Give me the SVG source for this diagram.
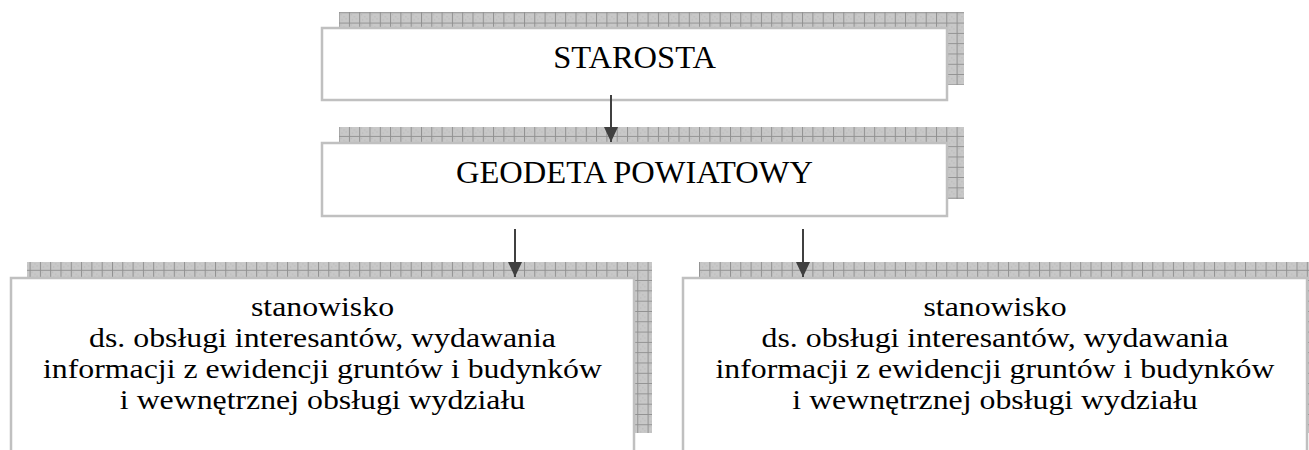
<svg xmlns="http://www.w3.org/2000/svg" width="1309" height="450" viewBox="0 0 1309 450">
  <defs>
    <pattern id="grid" patternUnits="userSpaceOnUse" x="9" y="2" width="10.3" height="10.3">
      <rect x="0" y="0" width="10.3" height="10.3" fill="#c8c8c8"/>
      <rect x="2" y="2" width="1" height="1" fill="#b4b4b4"/>
      <rect x="5" y="4" width="1" height="1" fill="#b4b4b4"/>
      <rect x="3" y="7" width="1" height="1" fill="#b4b4b4"/>
      <rect x="7" y="6" width="1" height="1" fill="#b4b4b4"/>
      <path d="M0 0.5 H10.3 M0.5 0 V10.3" stroke="#909090" stroke-width="1" fill="none"/>
    </pattern>
    <marker id="arrow" markerWidth="15" markerHeight="14" refX="15" refY="7" orient="auto" markerUnits="userSpaceOnUse" viewBox="0 0 15 14">
      <path d="M0 0 L15 7 L0 14 Z" fill="#404040"/>
    </marker>
    <style>
      .shadow { fill: url(#grid); }
      .box { fill: #ffffff; stroke: #c0c0c0; stroke-width: 2.5; }
      .big { font-size: 32.5px; fill: #000; text-anchor: middle; }
      .small { font-size: 26.5px; fill: #000; text-anchor: middle; }
      .conn { stroke: #404040; stroke-width: 2; fill: none; }
    </style>
  </defs>

  <g id="node-starosta" font-family="'Liberation Serif', 'Times New Roman', 'DejaVu Serif', serif">
    <rect class="shadow" x="339" y="12" width="625" height="73"/>
    <rect class="box" x="322" y="28" width="625" height="72"/>
    <text class="big" x="634.5" y="68">STAROSTA</text>
  </g>

  <g id="node-geodeta" font-family="'Liberation Serif', 'Times New Roman', 'DejaVu Serif', serif">
    <rect class="shadow" x="339" y="127" width="625" height="72"/>
    <rect class="box" x="322" y="143" width="625" height="73"/>
    <text class="big" x="634.5" y="183">GEODETA POWIATOWY</text>
  </g>

  <g id="node-stanowisko-1" font-family="'Liberation Serif', 'Times New Roman', 'DejaVu Serif', serif">
    <rect class="shadow" x="27" y="262" width="625" height="171"/>
    <rect class="box" x="11" y="278" width="623" height="190"/>
    <g transform="translate(322.5 0) scale(1.2 1)">
      <text class="small" x="0" y="316">stanowisko</text>
      <text class="small" x="0" y="347">ds. obsługi interesantów, wydawania</text>
      <text class="small" x="0" y="378">informacji z ewidencji gruntów i budynków</text>
      <text class="small" x="0" y="409">i wewnętrznej obsługi wydziału</text>
    </g>
  </g>

  <g id="node-stanowisko-2" font-family="'Liberation Serif', 'Times New Roman', 'DejaVu Serif', serif">
    <rect class="shadow" x="699" y="262" width="640" height="171"/>
    <rect class="box" x="683" y="278" width="624" height="190"/>
    <g transform="translate(995 0) scale(1.2 1)">
      <text class="small" x="0" y="316">stanowisko</text>
      <text class="small" x="0" y="347">ds. obsługi interesantów, wydawania</text>
      <text class="small" x="0" y="378">informacji z ewidencji gruntów i budynków</text>
      <text class="small" x="0" y="409">i wewnętrznej obsługi wydziału</text>
    </g>
  </g>

  <g id="connectors">
    <line class="conn" x1="611" y1="95" x2="611" y2="142" marker-end="url(#arrow)"/>
    <line class="conn" x1="515" y1="229" x2="515" y2="277" marker-end="url(#arrow)"/>
    <line class="conn" x1="803" y1="229" x2="803" y2="277" marker-end="url(#arrow)"/>
  </g>
</svg>
